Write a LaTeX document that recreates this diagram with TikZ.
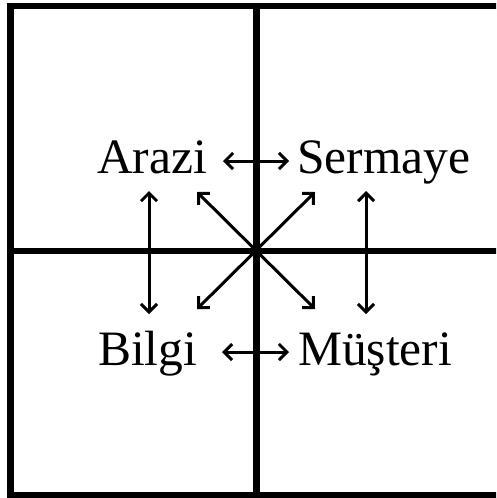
\documentclass[tikz,border=0pt]{standalone}
\usepackage{fontspec}
\setmainfont{Liberation Serif}
\usetikzlibrary{arrows.meta}
\begin{document}
\begin{tikzpicture}[x=1pt,y=-1pt,
  grid/.style={line width=6.5pt},
  link/.style={line width=3pt,{Straight Barb[length=8pt,width=16pt,line width=3pt]}-{Straight Barb[length=8pt,width=16pt,line width=3pt]}},
  label/.style={inner sep=0pt,anchor=base west,font=\fontsize{49.5}{59}\selectfont}]
\useasboundingbox (0,0) rectangle (496,498);
\clip (0,0) rectangle (496,498);
\fill[white] (0,0) rectangle (496,498);
% grid
\coordinate (tl) at (10.5,6);
\coordinate (br) at (510,495.5);
\draw[grid] (tl) rectangle (br);
\coordinate (vt) at (256.5,6);
\coordinate (vb) at (256.5,498);
\coordinate (hl) at (10.5,251);
\coordinate (hr) at (510,251);
\draw[grid] (vt) -- (vb);
\draw[grid] (hl) -- (hr);
% labels
\node[label] (arazi) at (97,173) {Arazi};
\node[label] (sermaye) at (297,173) {Sermaye};
\node[label] (bilgi) at (98,365) {Bilgi};
\node[label] (musteri) at (298,365) {Müşteri};
% arrow end points
\coordinate (a1) at (223,161);
\coordinate (a2) at (289,161);
\coordinate (b1) at (222,352);
\coordinate (b2) at (289,352);
\coordinate (l1) at (149,191);
\coordinate (l2) at (149,314);
\coordinate (r1) at (366,191);
\coordinate (r2) at (366,314);
\coordinate (d1) at (197,192);
\coordinate (d2) at (315,309);
\coordinate (e1) at (315,192);
\coordinate (e2) at (197,309);
\draw[link] (a1) -- (a2);
\draw[link] (b1) -- (b2);
\draw[link] (l1) -- (l2);
\draw[link] (r1) -- (r2);
\draw[link] (d1) -- (d2);
\draw[link] (e1) -- (e2);
\end{tikzpicture}
\end{document}
